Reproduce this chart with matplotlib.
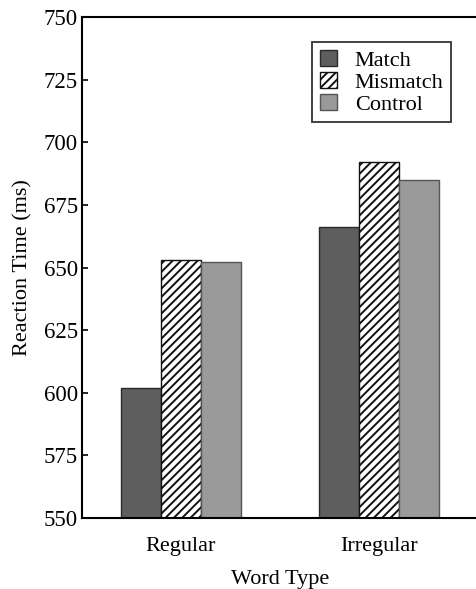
import matplotlib
matplotlib.use("Agg")
import matplotlib.pyplot as plt
import numpy as np

categories = ["Regular", "Irregular"]
series_names = ["Match", "Mismatch", "Control"]
match_vals = [602, 666]
mismatch_vals = [653, 692]
control_vals = [652, 685]
yticks = [550, 575, 600, 625, 650, 675, 700, 725, 750]

plt.rcParams['font.family'] = ['Liberation Serif', 'DejaVu Serif']
plt.rcParams['hatch.linewidth'] = 1.4

fig = plt.figure(figsize=(4.76, 5.89), dpi=100)
ax = fig.add_axes([82/476, 71/589, 396/476, 501/589])

x = np.arange(len(categories))
w = 0.202
styles = [
    dict(color="#5e5e5e", edgecolor="#2a2a2a"),
    dict(color="white", edgecolor="#111111", hatch="////"),
    dict(color="#9a9a9a", edgecolor="#555555"),
]
for i, (vals, name, st) in enumerate(zip([match_vals, mismatch_vals, control_vals], series_names, styles)):
    ax.bar(x + (i - 1) * w, np.array(vals) - 550, bottom=550, width=w, label=name,
           linewidth=1.0, **st)

ax.set_xlim(-0.5, 1.5)
ax.set_ylim(550, 750)
ax.set_yticks(yticks)
ax.set_xticks(x)
ax.set_xticklabels(categories)
ax.tick_params(axis='y', direction='in', length=4, width=1.2, labelsize=16.5, pad=3)
ax.tick_params(axis='x', length=0, labelsize=16, pad=14)
for s in ax.spines.values():
    s.set_linewidth(1.5)
ax.set_ylabel("Reaction Time (ms)", fontsize=16, labelpad=8)
ax.set_xlabel("Word Type", fontsize=16, labelpad=10)

leg = ax.legend(loc='upper left', bbox_to_anchor=(0.581, 0.950), fontsize=16,
                frameon=True, fancybox=False, shadow=False, borderaxespad=0,
                handlelength=0.77, handleheight=0.75, handletextpad=0.8,
                labelspacing=0.05, borderpad=0.35)
leg.get_frame().set_edgecolor('black')
leg.get_frame().set_linewidth(1.3)

fig.savefig("out.png", dpi=100)
